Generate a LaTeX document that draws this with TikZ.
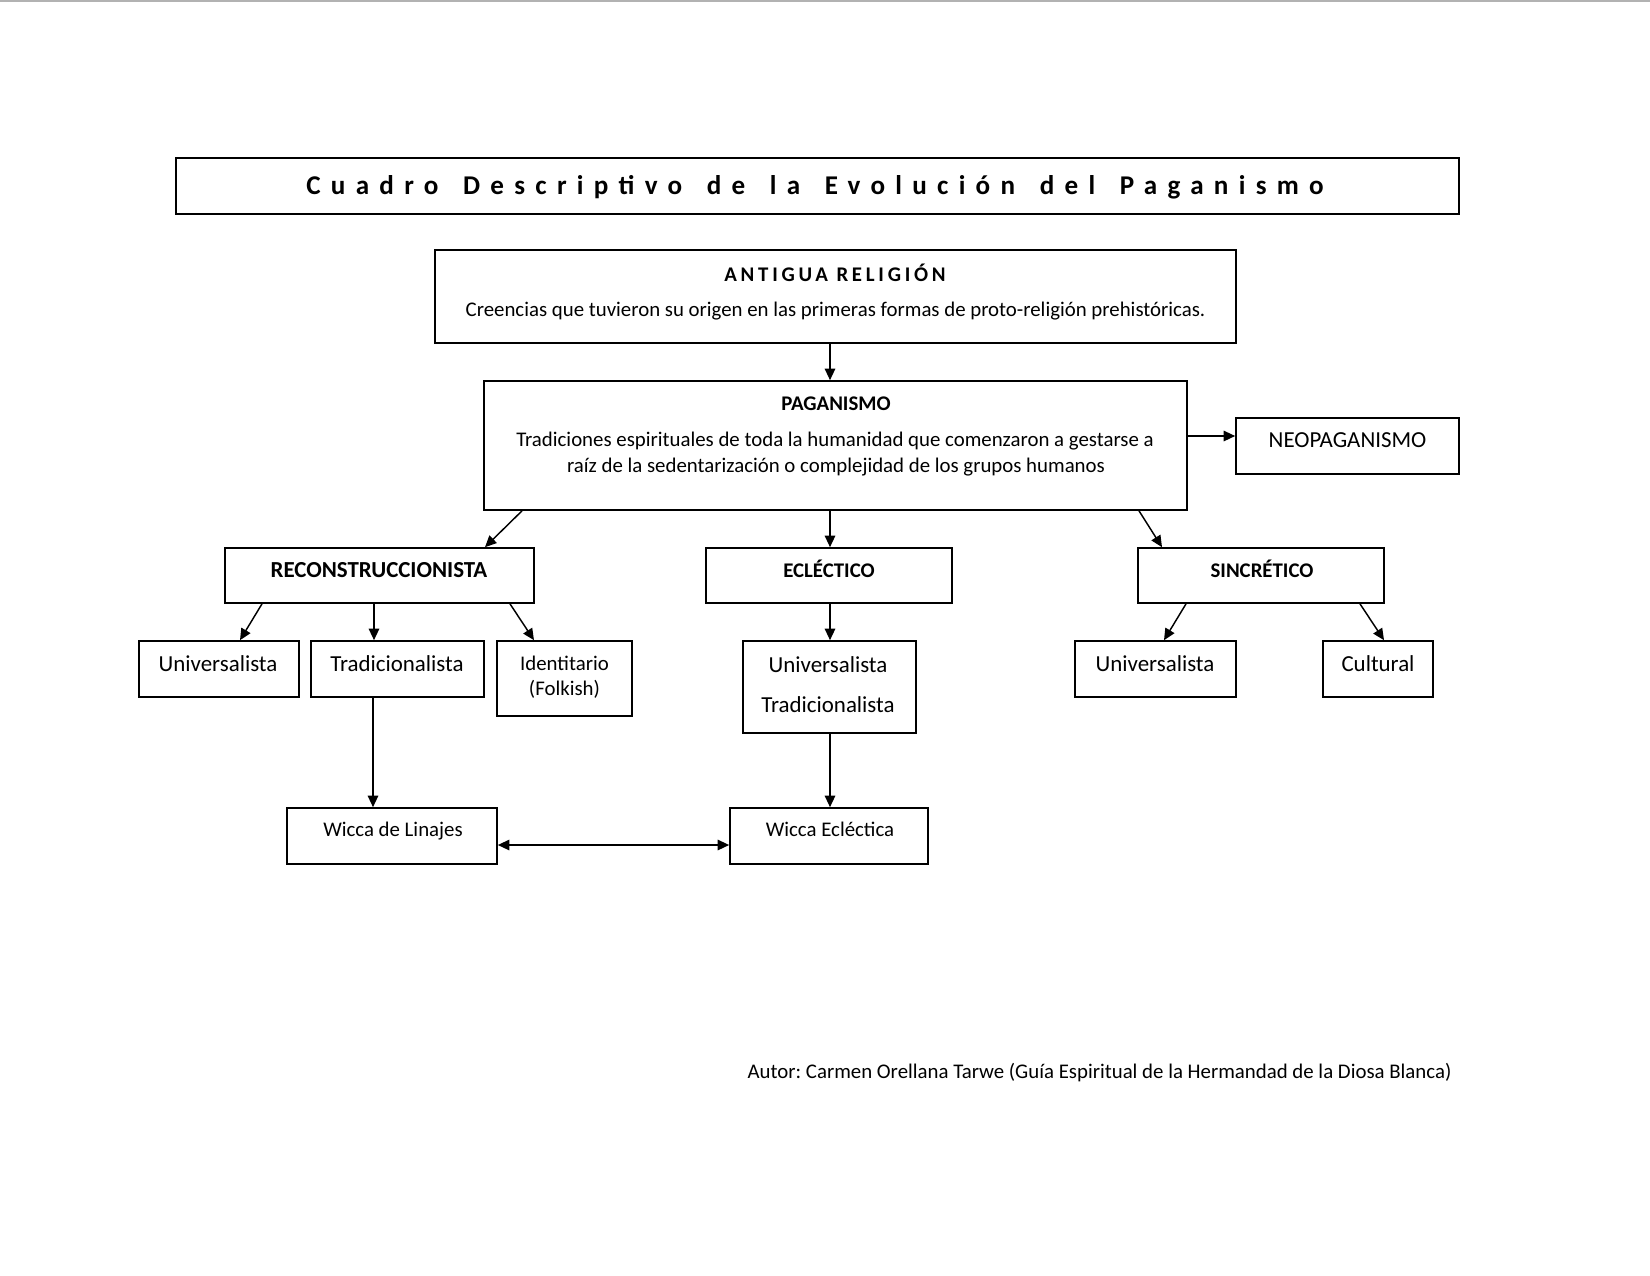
\documentclass[tikz,border=0pt]{standalone}
\usepackage{fontspec}
\setmainfont{Carlito}
\newfontfamily\titlefont[LetterSpace=38,WordSpace=1.5]{Carlito}
\newfontfamily\headfont[LetterSpace=18]{Carlito}
\usetikzlibrary{arrows.meta}
\frenchspacing
\begin{document}
\begin{tikzpicture}[x=0.48pt,y=-0.48pt,
  bx/.style 2 args={draw, line width=0.8pt, inner sep=0pt, minimum width=#1*0.48pt, minimum height=#2*0.48pt},
  txt/.style={inner sep=0pt, anchor=base},
  f11/.style={font=\fontsize{11}{13}\selectfont},
  f10/.style={font=\fontsize{10}{12}\selectfont},
  b11/.style={font=\bfseries\fontsize{11}{13}\selectfont},
  b10/.style={font=\bfseries\fontsize{10}{12}\selectfont},
  con/.style={line width=0.7pt, -{Triangle[length=5.5pt,width=5pt]}},
  dcon/.style={line width=0.7pt, {Triangle[length=5.5pt,width=5pt]}-{Triangle[length=5.5pt,width=5pt]}}
]
\useasboundingbox (0,0) rectangle (1650,1275);
\fill[white] (0,0) rectangle (1650,1275);
\draw[gray!60, line width=1pt] (0,1) -- (1650,1);

% boxes
\node[bx={1283}{56}] (title) at (817.5,186) {};
\node[bx={801}{93}] (ant) at (835.5,296.5) {};
\node[bx={703}{129}] (pag) at (835.5,445.5) {};
\node[bx={223}{56}] (neo) at (1347.5,446) {};
\node[bx={309}{55}] (recon) at (379.5,575.5) {};
\node[bx={246}{55}] (ecl) at (829,575.5) {};
\node[bx={246}{55}] (sinc) at (1261,575.5) {};
\node[bx={160}{56}] (runiv) at (219,669) {};
\node[bx={173}{56}] (rtrad) at (397.5,669) {};
\node[bx={135}{75}] (rident) at (564.5,678.5) {};
\node[bx={173}{92}] (eclc) at (829.5,687) {};
\node[bx={161}{56}] (suniv) at (1155.5,669) {};
\node[bx={110}{56}] (scult) at (1378,669) {};
\node[bx={210}{56}] (wlin) at (392,836) {};
\node[bx={198}{56}] (wecl) at (829,836) {};

% texts
\node[txt, font=\titlefont\bfseries\fontsize{13}{15}\selectfont] (titlet) at (815,194) {Cuadro Descriptivo de la Evolución del Paganismo};
\node[txt, font=\headfont\bfseries\fontsize{10}{12}\selectfont] (antt) at (835,281) {ANTIGUA RELIGIÓN};
\node[txt, f10] (antd) at (835.5,316) {Creencias que tuvieron su origen en las primeras formas de proto-religión prehistóricas.};
\node[txt, b10] (pagt) at (836,410) {PAGANISMO};
\node[txt, f10] (pagd1) at (835,446) {Tradiciones espirituales de toda la humanidad que comenzaron a gestarse a};
\node[txt, f10] (pagd2) at (836,472) {raíz de la sedentarización o complejidad de los grupos humanos};
\node[txt, f11] (neot) at (1347.5,447) {NEOPAGANISMO};
\node[txt, b11] (recont) at (379,577) {RECONSTRUCCIONISTA};
\node[txt, b10] (eclt) at (829,577) {ECLÉCTICO};
\node[txt, b10] (sinct) at (1262,577) {SINCRÉTICO};
\node[txt, f11] (runivt) at (218,671) {Universalista};
\node[txt, f11] (rtradt) at (397,671) {Tradicionalista};
\node[txt, f10] (ridentt1) at (564.5,670) {Identitario};
\node[txt, f10] (ridentt2) at (564.5,695) {(Folkish)};
\node[txt, f11] (eclct1) at (828,672) {Universalista};
\node[txt, f11] (eclct2) at (828,712) {Tradicionalista};
\node[txt, f11] (sunivt) at (1155,671) {Universalista};
\node[txt, f11] (scultt) at (1378,671) {Cultural};
\node[txt, f10] (wlint) at (393,836) {Wicca de Linajes};
\node[txt, f10] (weclt) at (830,836) {Wicca Ecléctica};
\node[txt, f10] (autor) at (1099.5,1078) {Autor: Carmen Orellana Tarwe (Guía Espiritual de la Hermandad de la Diosa Blanca)};

% connectors
\draw[con] (830,0 |- ant.south) -- (830,0 |- pag.north);
\draw[con] (pag.east |- 0,436) -- (neo.west |- 0,436);
\draw[con] (522,0 |- pag.south) -- (485,0 |- recon.north);
\draw[con] (830,0 |- pag.south) -- (830,0 |- ecl.north);
\draw[con] (1139,0 |- pag.south) -- (1162,0 |- sinc.north);
\draw[con] (262,0 |- recon.south) -- (240,0 |- runiv.north);
\draw[con] (374,0 |- recon.south) -- (374,0 |- rtrad.north);
\draw[con] (510,0 |- recon.south) -- (534,0 |- rident.north);
\draw[con] (830,0 |- ecl.south) -- (830,0 |- eclc.north);
\draw[con] (1186,0 |- sinc.south) -- (1164,0 |- suniv.north);
\draw[con] (1360,0 |- sinc.south) -- (1384,0 |- scult.north);
\draw[con] (373,0 |- rtrad.south) -- (373,0 |- wlin.north);
\draw[con] (830,0 |- eclc.south) -- (830,0 |- wecl.north);
\draw[dcon] (wlin.east |- 0,845) -- (wecl.west |- 0,845);
\end{tikzpicture}
\end{document}
